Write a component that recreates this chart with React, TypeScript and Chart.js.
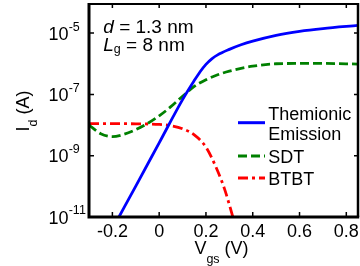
import React, { useEffect, useRef } from "react";
import { Chart, registerables } from "chart.js";

Chart.register(...registerables);

// ---- data (log10 of drain current in A vs gate voltage in V) ----
const thermionicV = [-0.172, -0.1, 0, 0.1, 0.15, 0.175, 0.2, 0.225, 0.25, 0.3, 0.35, 0.4, 0.5, 0.6, 0.7, 0.85];
const thermionicLog = [-11, -9.99, -8.58, -7.17, -6.55, -6.26, -6.02, -5.84, -5.71, -5.53, -5.38, -5.26, -5.07, -4.94, -4.85, -4.75];

const sdtV = [-0.3, -0.25, -0.2, -0.15, -0.1, -0.05, 0, 0.05, 0.1, 0.15, 0.2, 0.25, 0.3, 0.4, 0.5, 0.6, 0.7, 0.85];
const sdtLog = [-8.0, -8.28, -8.38, -8.3, -8.15, -7.95, -7.7, -7.4, -7.06, -6.74, -6.52, -6.36, -6.24, -6.08, -6.0, -5.99, -5.99, -6.01];

const btbtV = [-0.3, -0.2, -0.1, 0, 0.05, 0.1, 0.15, 0.2, 0.25, 0.28, 0.3, 0.315];
const btbtLog = [-7.95, -7.95, -7.96, -7.98, -8.02, -8.12, -8.32, -8.72, -9.5, -10.1, -10.6, -11.0];

const xTicks = [-0.2, 0, 0.2, 0.4, 0.6, 0.8];
const yTickExps = [-11, -9, -7, -5];
const xMin = -0.3;
const xMax = 0.85;
const yMin = 1e-11;
const yMax = Math.pow(10, -4.05);

const seriesNames = ["Themionic\nEmission", "SDT", "BTBT"];
const seriesColors = ["#0000ff", "#008000", "#ff0000"];
const seriesDashes: number[][] = [[], [9, 4], [10, 4, 3, 4]];

const FAMILY = '"Liberation Sans", Arial, Helvetica, sans-serif';
const f = (size: number, style = "") => `${style} ${size}px ${FAMILY}`.trim();

const toPoints = (xs: number[], logs: number[]) =>
  xs.map((x, i) => ({ x, y: Math.pow(10, logs[i]) }));

const overlay = {
  id: "overlay",
  afterDraw(chart: any) {
    const ctx: CanvasRenderingContext2D = chart.ctx;
    const { left, right, top, bottom } = chart.chartArea;
    const xs = chart.scales.x;
    const ys = chart.scales.y;
    ctx.save();
    ctx.strokeStyle = "#000";
    ctx.fillStyle = "#000";
    ctx.lineCap = "butt";
    ctx.setLineDash([]);

    // frame
    ctx.lineWidth = 2;
    ctx.beginPath();
    ctx.moveTo(left, top);
    ctx.lineTo(right, top);
    ctx.stroke();
    ctx.lineWidth = 2.5;
    ctx.beginPath();
    ctx.moveTo(right, top - 1);
    ctx.lineTo(right, bottom);
    ctx.stroke();
    ctx.lineWidth = 3;
    ctx.beginPath();
    ctx.moveTo(left, top - 1);
    ctx.lineTo(left, bottom + 1.5);
    ctx.moveTo(left - 1.5, bottom);
    ctx.lineTo(right + 1.2, bottom);
    ctx.stroke();

    // ticks (inward, all four sides)
    ctx.lineWidth = 1.5;
    ctx.beginPath();
    xTicks.forEach((v) => {
      const px = xs.getPixelForValue(v);
      ctx.moveTo(px, bottom);
      ctx.lineTo(px, bottom - 5);
      ctx.moveTo(px, top);
      ctx.lineTo(px, top + 4);
    });
    yTickExps.forEach((e) => {
      const py = ys.getPixelForValue(Math.pow(10, e));
      ctx.moveTo(left, py);
      ctx.lineTo(left + 5, py);
      ctx.moveTo(right, py);
      ctx.lineTo(right - 4, py);
    });
    ctx.stroke();

    // x tick labels
    ctx.font = f(18);
    ctx.textAlign = "center";
    ctx.textBaseline = "alphabetic";
    xTicks.forEach((v) => {
      const px = xs.getPixelForValue(v);
      const label = v === 0 ? "0" : v.toFixed(1);
      ctx.fillText(label, px, bottom + 20);
    });

    // y tick labels 10^e
    yTickExps.forEach((e) => {
      const py = ys.getPixelForValue(Math.pow(10, e));
      ctx.font = f(18);
      ctx.textAlign = "right";
      ctx.fillText("10", left - 20.5, py + 6.5);
      ctx.font = f(12.5);
      ctx.textAlign = "left";
      ctx.fillText(String(e), left - 20.3, py - 2.6);
    });

    // x axis title: V_gs (V)
    {
      const parts = [
        { t: "V", size: 18, dy: 0 },
        { t: "gs", size: 12.5, dy: 9.7 },
        { t: " (V)", size: 18, dy: 0 },
      ];
      let total = 0;
      parts.forEach((p) => {
        ctx.font = f(p.size);
        total += ctx.measureText(p.t).width;
      });
      let x = (left + right) / 2 - 2 - total / 2;
      const base = bottom + 36.6;
      ctx.textAlign = "left";
      parts.forEach((p) => {
        ctx.font = f(p.size);
        ctx.fillText(p.t, x, base + p.dy);
        x += ctx.measureText(p.t).width;
      });
    }

    // y axis title: I_d (A), rotated
    {
      const parts = [
        { t: "I", size: 18, dy: 0 },
        { t: "d", size: 12.5, dy: 8.4 },
        { t: " (A)", size: 18, dy: 0 },
      ];
      let total = 0;
      parts.forEach((p) => {
        ctx.font = f(p.size);
        total += ctx.measureText(p.t).width;
      });
      ctx.save();
      ctx.translate(28.5, 111);
      ctx.rotate(-Math.PI / 2);
      let x = -total / 2;
      ctx.textAlign = "left";
      parts.forEach((p) => {
        ctx.font = f(p.size);
        ctx.fillText(p.t, x, p.dy);
        x += ctx.measureText(p.t).width;
      });
      ctx.restore();
    }

    // annotation
    {
      const ax = left + 14.3;
      let x = ax;
      ctx.textAlign = "left";
      ctx.font = f(19, "italic");
      ctx.fillText("d", x, 33.3);
      x += ctx.measureText("d").width;
      ctx.font = f(19);
      ctx.fillText(" = 1.3 nm", x, 33.3);

      x = ax;
      ctx.font = f(19, "italic");
      ctx.fillText("L", x, 51);
      x += ctx.measureText("L").width;
      ctx.font = f(12.5);
      ctx.fillText("g", x, 53);
      x += ctx.measureText("g").width;
      ctx.font = f(19);
      ctx.fillText(" = 8 nm", x, 51);
    }

    // legend
    {
      const lineX0 = 238;
      const lineX1 = 265;
      const textX = 268.3;
      const lineYs = [122.7, 156, 178];
      const textBases = [[120, 140], [163.3], [185]];
      seriesNames.forEach((name, i) => {
        ctx.strokeStyle = seriesColors[i];
        ctx.lineWidth = 3;
        ctx.setLineDash(seriesDashes[i]);
        ctx.beginPath();
        ctx.moveTo(lineX0, lineYs[i]);
        ctx.lineTo(lineX1, lineYs[i]);
        ctx.stroke();
        ctx.setLineDash([]);
        ctx.fillStyle = "#000";
        ctx.font = f(18);
        ctx.textAlign = "left";
        name.split("\n").forEach((ln, j) => {
          ctx.fillText(ln, textX, textBases[i][j]);
        });
      });
    }
    ctx.restore();
  },
};

export default function App() {
  const canvasRef = useRef<HTMLCanvasElement | null>(null);

  useEffect(() => {
    const canvas = canvasRef.current;
    if (!canvas) return;
    const series = [
      toPoints(thermionicV, thermionicLog),
      toPoints(sdtV, sdtLog),
      toPoints(btbtV, btbtLog),
    ];
    const chart = new Chart(canvas, {
      type: "line",
      data: {
        datasets: series.map((data, i) => ({
          label: seriesNames[i],
          data,
          borderColor: seriesColors[i],
          backgroundColor: seriesColors[i],
          borderWidth: 2.8,
          borderDash: seriesDashes[i],
          pointRadius: 0,
          fill: false,
          cubicInterpolationMode: "monotone" as const,
        })),
      },
      options: {
        responsive: false,
        animation: false,
        devicePixelRatio: 1,
        layout: { padding: { left: 89, top: 4, right: 2, bottom: 49 } },
        plugins: { legend: { display: false }, tooltip: { enabled: false } },
        scales: {
          x: { type: "linear", min: xMin, max: xMax, display: false },
          y: { type: "logarithmic", min: yMin, max: yMax, display: false },
        },
      },
      plugins: [overlay],
    });
    return () => chart.destroy();
  }, []);

  return (
    <div style={{ position: "absolute", left: 0, top: 0, width: 360, height: 266, background: "#fff" }}>
      <canvas ref={canvasRef} width={360} height={266} />
    </div>
  );
}
